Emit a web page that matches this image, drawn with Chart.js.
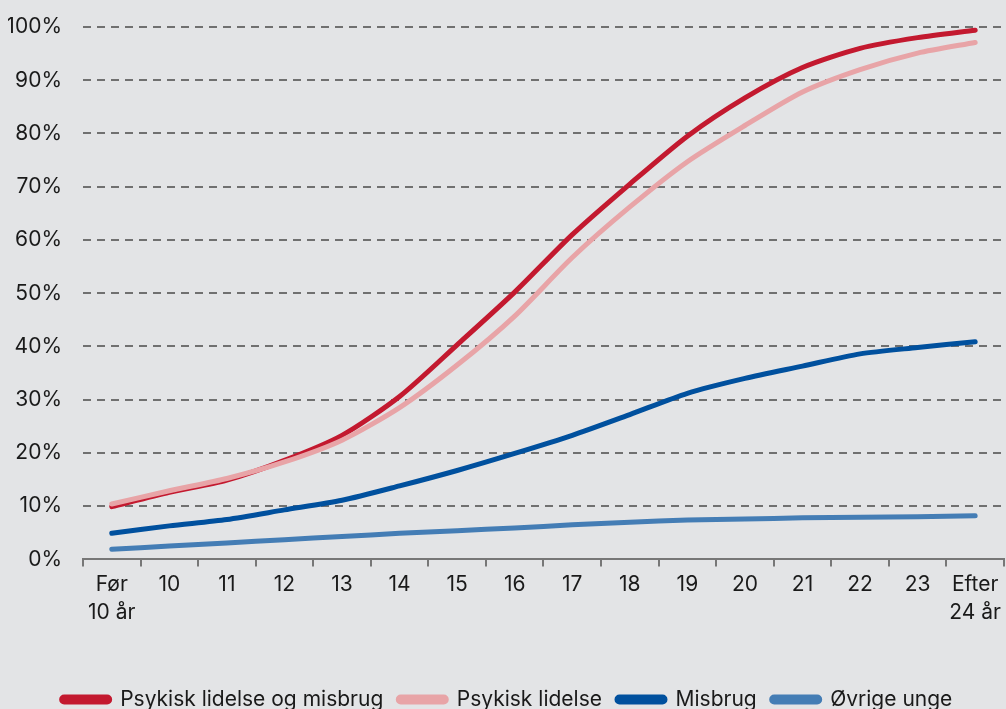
<!DOCTYPE html>
<html>
<head>
<meta charset="utf-8">
<script src="https://cdn.jsdelivr.net/npm/chart.js@4.4.1/dist/chart.umd.min.js"></script>
<style>
  html, body { margin: 0; padding: 0; background: #e3e4e6; overflow: hidden; }
  #wrap { width: 1006px; height: 720px; }
</style>
</head>
<body>
<div id="wrap"><canvas id="chart"></canvas></div>
<script>
const labels = [['Før', '10 år'], '10', '11', '12', '13', '14', '15', '16', '17', '18', '19', '20', '21', '22', '23', ['Efter', '24 år']];

const psykiskOgMisbrug = [9.9, 12.6, 14.9, 18.6, 23.3, 30.6, 40.3, 50.2, 61.0, 70.5, 79.5, 86.7, 92.4, 96.0, 98.0, 99.4];
const psykisk = [10.4, 12.9, 15.2, 18.3, 22.4, 28.5, 36.5, 45.7, 56.7, 66.2, 74.7, 81.5, 87.8, 92.0, 95.1, 97.1];
const misbrug = [4.9, 6.3, 7.5, 9.3, 11.1, 13.8, 16.7, 19.9, 23.3, 27.2, 31.2, 34.0, 36.3, 38.6, 39.8, 40.9];
const oevrige = [1.9, 2.5, 3.1, 3.7, 4.3, 4.9, 5.4, 5.9, 6.5, 7.0, 7.4, 7.6, 7.8, 7.9, 8.0, 8.2];

const yTicks = [0, 10, 20, 30, 40, 50, 60, 70, 80, 90, 100];

Chart.defaults.font.family = 'Inter, "Noto Sans", sans-serif';
Chart.defaults.font.size = 21;
Chart.defaults.color = '#1a1a1a';

function line(label, data, color, order) {
  return {
    label: label,
    data: data,
    borderColor: color,
    backgroundColor: color,
    borderWidth: 5,
    pointRadius: 0,
    tension: 0.25,
    borderCapStyle: 'round',
    order: order,
  };
}

let ctx = document.getElementById('chart').getContext('2d');
let myChart = new Chart(ctx, {
  type: 'line',
  data: {
    labels: labels,
    datasets: [
      line('Psykisk lidelse og misbrug', psykiskOgMisbrug, '#c3192f', 2),
      line('Psykisk lidelse', psykisk, '#e8a4a7', 1),
      line('Misbrug', misbrug, '#00509e', 3),
      line('Øvrige unge', oevrige, '#447db5', 4),
    ],
  },
  options: {
    responsive: true,
    maintainAspectRatio: false,
    animation: false,
    layout: { padding: { top: 27, left: 8, right: 0, bottom: 0 } },
    scales: {
      x: {
        offset: true,
        grid: { offset: true, drawOnChartArea: false, drawTicks: true, tickLength: 7, color: '#777', lineWidth: 2 },
        border: { display: true, color: '#777', width: 2 },
        ticks: { padding: 5, maxRotation: 0, autoSkip: false, font: { lineHeight: 1.3 } },
        afterFit: (scale) => { scale.height += 43; },
      },
      y: {
        min: 0,
        max: 100,
        afterBuildTicks: (scale) => { scale.ticks = yTicks.map(v => ({ value: v })); },
        afterFit: (scale) => { scale.width = 75; },
        // invisible tick marks keep the labels away from the plot
        grid: { color: '#707070', lineWidth: 2, drawTicks: true, tickLength: 21, tickColor: 'rgba(0,0,0,0)' },
        border: { display: false, dash: [8, 6] },
        ticks: { padding: 0, callback: (v) => v + '%' },
      },
    },
    plugins: {
      legend: {
        position: 'bottom',
        labels: {
          boxWidth: 48, boxHeight: 5, padding: 15, useBorderRadius: true, borderRadius: 2.5,
          sort: (a, b) => a.datasetIndex - b.datasetIndex,
        },
      },
      tooltip: { enabled: false },
    },
  },
});
</script>
</body>
</html>
